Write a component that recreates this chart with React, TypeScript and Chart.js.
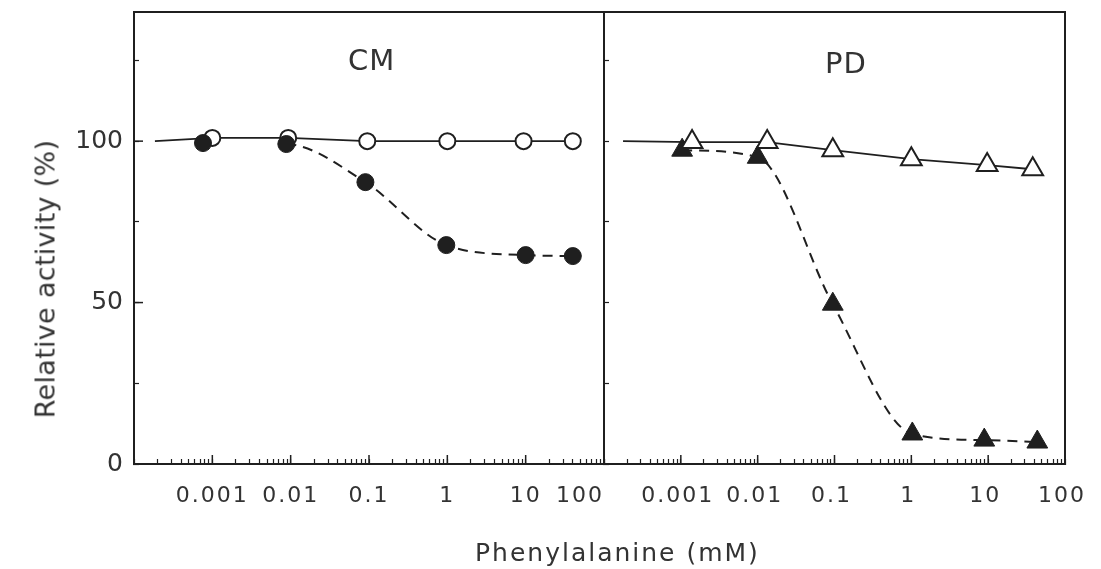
import React, { useEffect, useRef } from 'react';
import { Chart, registerables } from 'chart.js';

Chart.register(...registerables);

const INK = '#1f1f1f';
const TEXT = '#333333';
const FONT = "'DejaVu Sans', 'Liberation Sans', sans-serif";

// ---- axes ----
const xMin = 0.0001;
const xMax = 100;
const xTickValues = [0.001, 0.01, 0.1, 1, 10, 100];
const xTickLabels = ['0.001', '0.01', '0.1', '1', '10', '100'];
const yMin = 0;
const yMax = 140;
const yStep = 25;
const yLabelledTicks = [0, 50, 100];

const panelLabels = ['CM', 'PD'];
const xTitle = 'Phenylalanine (mM)';
const yTitle = 'Relative activity (%)';

// ---- data (first entry of the open series = start of the drawn line, no marker) ----
const cmOpenConc = [0.000185, 0.001, 0.0093, 0.095, 1.0, 9.4, 40];
const cmOpenActivity = [100, 101, 101, 100, 100, 100, 100];
const cmFilledConc = [0.00076, 0.0088, 0.09, 0.97, 10, 40];
const cmFilledActivity = [99.4, 99.1, 87.3, 67.8, 64.7, 64.4];

const pdOpenConc = [0.000177, 0.0014, 0.0133, 0.095, 1.0, 9.7, 38];
const pdOpenActivity = [100, 99.7, 99.7, 97.2, 94.4, 92.6, 91.3];
const pdFilledConc = [0.00104, 0.01, 0.095, 1.03, 8.9, 43.6];
const pdFilledActivity = [97.2, 95, 49.5, 9.3, 7.4, 6.8];

function pts(xs: number[], ys: number[]) {
  return xs.map((x, i) => ({ x, y: ys[i] }));
}

function isDecade(v: number) {
  const e = Math.log10(v);
  return Math.abs(e - Math.round(e)) < 1e-6;
}

function xLabel(v: number) {
  const i = xTickValues.findIndex((t) => Math.abs(Math.log10(t) - Math.log10(v)) < 1e-6);
  return i >= 0 ? xTickLabels[i] : '';
}

const framePlugin: any = {
  id: 'frame',
  afterDraw(chart: any, _args: any, opts: any) {
    const { ctx, chartArea: a } = chart;
    ctx.save();
    ctx.strokeStyle = INK;
    ctx.lineWidth = 2;
    ctx.strokeRect(a.left, a.top, a.right - a.left, a.bottom - a.top);
    ctx.lineWidth = 1.5;
    const xs = chart.scales.x;
    xs.ticks.forEach((t: any) => {
      if (isDecade(t.value) && t.value > xMin && t.value < xMax) {
        const px = xs.getPixelForValue(t.value);
        ctx.beginPath();
        ctx.moveTo(px, a.bottom);
        ctx.lineTo(px, a.bottom - 9);
        ctx.stroke();
      }
    });
    if (opts && opts.majorY) {
      const ys = chart.scales.y;
      ys.ticks.forEach((t: any) => {
        if (t.value > 0 && t.value % 50 === 0) {
          const py = ys.getPixelForValue(t.value);
          ctx.beginPath();
          ctx.moveTo(a.left, py);
          ctx.lineTo(a.left + 9, py);
          ctx.stroke();
        }
      });
    }
    ctx.restore();
  },
};

function spacedLabels(spacing: string) {
  return (scale: any) => {
    if (scale.$spaced) return;
    scale.$spaced = true;
    const orig = scale.drawLabels;
    scale.drawLabels = function (area: any) {
      const ctx = this.ctx;
      const prev = ctx.letterSpacing;
      ctx.letterSpacing = spacing;
      orig.call(this, area);
      ctx.letterSpacing = prev || '0px';
    };
  };
}

function zeroPadding(s: any) {
  s.paddingLeft = 0;
  s.paddingRight = 0;
  s.paddingTop = 0;
  s.paddingBottom = 0;
}

function xScale(align: string, labelOffset: number) {
  return {
    type: 'logarithmic',
    min: xMin,
    max: xMax,
    afterBuildTicks: (s: any) => {
      s.ticks = s.ticks.filter((t: any) => {
        const e = Math.floor(Math.log10(t.value) + 1e-9);
        const m = t.value / Math.pow(10, e);
        return Math.abs(m - Math.round(m)) < 1e-6;
      });
    },
    afterFit: (s: any) => {
      s.height = 60;
      zeroPadding(s);
    },
    afterUpdate: spacedLabels('2px'),
    grid: { drawOnChartArea: false, tickLength: -5, tickColor: INK, tickWidth: 1.2 },
    border: { color: INK, width: 2 },
    ticks: {
      autoSkip: false,
      maxRotation: 0,
      minRotation: 0,
      padding: 24,
      align,
      labelOffset,
      color: TEXT,
      font: { family: FONT, size: 22 },
      callback: (v: any) => xLabel(Number(v)),
    },
  };
}

function yScale(showLabels: boolean, width: number) {
  return {
    type: 'linear',
    min: yMin,
    max: yMax,
    afterFit: (s: any) => {
      s.width = width;
      zeroPadding(s);
    },
    grid: { drawOnChartArea: false, tickLength: -5, tickColor: INK, tickWidth: 1.2 },
    border: { color: INK, width: 2 },
    ticks: {
      display: showLabels,
      stepSize: yStep,
      includeBounds: false,
      autoSkip: false,
      padding: 16,
      color: TEXT,
      font: { family: FONT, size: 25 },
      callback: (v: any) => (yLabelledTicks.includes(Number(v)) ? String(v) : ''),
    },
  };
}

function baseOptions(padding: any, majorY: boolean, scales: any) {
  return {
    animation: false,
    responsive: true,
    maintainAspectRatio: false,
    layout: { padding, autoPadding: false },
    plugins: {
      legend: { display: false },
      tooltip: { enabled: false },
      frame: { majorY },
    },
    scales,
  };
}

function buildCM(): any {
  return {
    type: 'line',
    data: {
      datasets: [
        {
          label: 'CM filled',
          data: pts(cmFilledConc, cmFilledActivity),
          borderColor: INK,
          borderWidth: 2,
          borderDash: [10, 7],
          cubicInterpolationMode: 'monotone',
          segment: {
            borderColor: (ctx: any) => (ctx.p0DataIndex === 0 ? 'rgba(0,0,0,0)' : INK),
          },
          pointStyle: 'circle',
          pointRadius: 8.5,
          pointBackgroundColor: INK,
          pointBorderColor: INK,
          pointBorderWidth: 1,
          fill: false,
        },
        {
          label: 'CM open',
          data: pts(cmOpenConc, cmOpenActivity),
          borderColor: INK,
          borderWidth: 1.8,
          tension: 0,
          pointStyle: 'circle',
          pointRadius: cmOpenConc.map((_, i) => (i === 0 ? 0 : 8)),
          pointBackgroundColor: '#ffffff',
          pointBorderColor: INK,
          pointBorderWidth: 2,
          fill: false,
        },
      ],
    },
    plugins: [framePlugin],
    options: baseOptions({ left: 0, right: 36, top: 12, bottom: 45 }, true, {
      x: xScale('inner', 0),
      y: yScale(true, 134),
    }),
  };
}

function buildPD(): any {
  return {
    type: 'line',
    data: {
      datasets: [
        {
          label: 'PD open',
          data: pts(pdOpenConc, pdOpenActivity),
          borderColor: INK,
          borderWidth: 1.8,
          tension: 0,
          pointStyle: 'triangle',
          pointRadius: pdOpenConc.map((_, i) => (i === 0 ? 0 : 12)),
          pointBackgroundColor: '#ffffff',
          pointBorderColor: INK,
          pointBorderWidth: 2,
          fill: false,
        },
        {
          label: 'PD filled',
          data: pts(pdFilledConc, pdFilledActivity),
          borderColor: INK,
          borderWidth: 2,
          borderDash: [10, 7],
          cubicInterpolationMode: 'monotone',
          pointStyle: 'triangle',
          pointRadius: 12,
          pointBackgroundColor: INK,
          pointBorderColor: INK,
          pointBorderWidth: 1,
          fill: false,
        },
      ],
    },
    plugins: [framePlugin],
    options: baseOptions({ left: 0, right: 36, top: 12, bottom: 45 }, false, {
      x: xScale('center', -3),
      y: yScale(false, 44),
    }),
  };
}

function Panel({ build, style }: { build: () => any; style: any }) {
  const ref = useRef<HTMLCanvasElement>(null);
  useEffect(() => {
    const chart = new Chart(ref.current as HTMLCanvasElement, build());
    return () => chart.destroy();
  }, []);
  return (
    <div style={style}>
      <canvas ref={ref} />
    </div>
  );
}

export default function App() {
  const textBase: any = {
    position: 'absolute',
    fontFamily: FONT,
    color: TEXT,
    lineHeight: 1,
    whiteSpace: 'nowrap',
  };
  return (
    <div
      style={{
        position: 'fixed',
        left: 0,
        top: 0,
        width: 1101,
        height: 569,
        background: '#ffffff',
        overflow: 'hidden',
      }}
    >
      <Panel build={buildCM} style={{ position: 'absolute', left: 0, top: 0, width: 640, height: 569 }} />
      <Panel build={buildPD} style={{ position: 'absolute', left: 560, top: 0, width: 541, height: 569 }} />
      <div style={{ ...textBase, left: 348, top: 46, fontSize: 29, letterSpacing: '1px' }}>{panelLabels[0]}</div>
      <div style={{ ...textBase, left: 825, top: 49, fontSize: 29, letterSpacing: '1px' }}>{panelLabels[1]}</div>
      <div style={{ ...textBase, left: 475, top: 540, fontSize: 25, letterSpacing: '2px' }}>{xTitle}</div>
      <div
        style={{
          ...textBase,
          left: 45,
          top: 279,
          fontSize: 27,
          letterSpacing: '0.3px',
          transform: 'translate(-50%, -50%) rotate(-90deg)',
        }}
      >
        {yTitle}
      </div>
    </div>
  );
}
